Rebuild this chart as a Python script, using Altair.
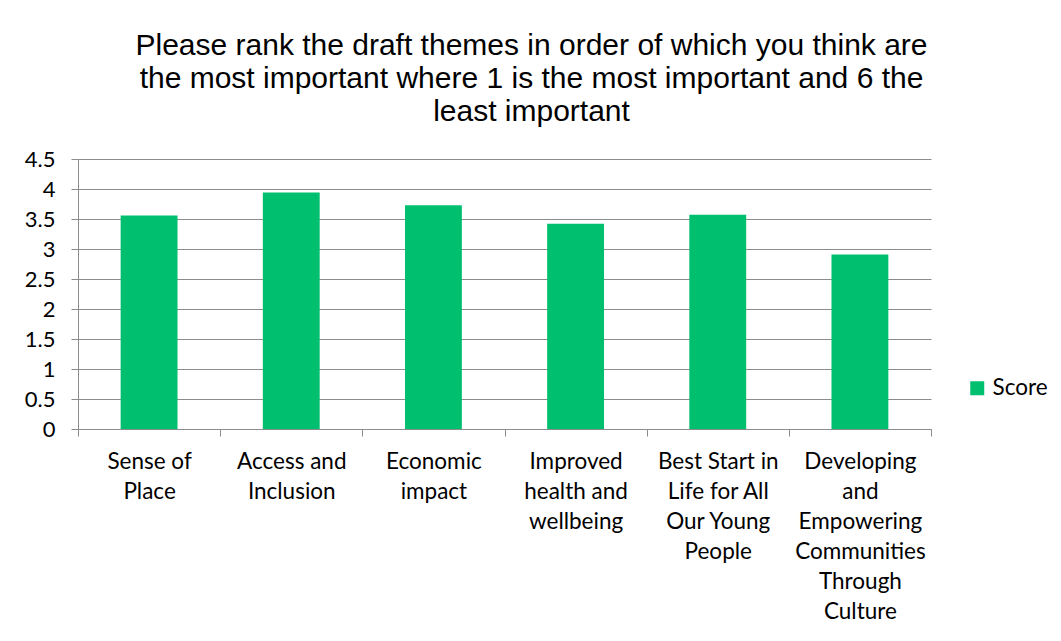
import altair as alt
import pandas as pd

categories = [
    "Sense of|Place",
    "Access and|Inclusion",
    "Economic|impact",
    "Improved|health and|wellbeing",
    "Best Start in|Life for All|Our Young|People",
    "Developing|and|Empowering|Communities|Through|Culture",
]
scores = [3.56, 3.94, 3.73, 3.42, 3.57, 2.91]
series = ["Score"] * len(categories)
y_ticks = [0, 0.5, 1, 1.5, 2, 2.5, 3, 3.5, 4, 4.5]
title_lines = [
    "Please rank the draft themes  in order of which you think are",
    "the most important where 1 is the most important and 6 the",
    "least important",
]

df = pd.DataFrame({"theme": categories, "score": scores, "series": series})

GREEN = "#00BF6F"
GREY = "#8C8C8C"
LABEL_FONT = "Lato"

bars = alt.Chart(df).mark_bar(width=alt.RelativeBandSize(0.4)).encode(
    x=alt.X(
        "theme:N",
        sort=categories,
        scale=alt.Scale(paddingInner=0, paddingOuter=0),
        axis=alt.Axis(
            title=None,
            labelAngle=0,
            labelExpr="split(datum.label, '|')",
            labelBaseline="top",
            labelLineHeight=30,
            labelFont=LABEL_FONT,
            labelFontSize=22.5,
            labelColor="black",
            labelPadding=14,
            tickBand="extent",
            tickSize=7,
            tickColor=GREY,
            domainColor=GREY,
            grid=False,
            labelLimit=300,
        ),
    ),
    y=alt.Y(
        "score:Q",
        scale=alt.Scale(domain=[0, 4.5], nice=False),
        axis=alt.Axis(
            title=None,
            values=y_ticks,
            format="~g",
            labelFont=LABEL_FONT,
            labelFontSize=22,
            labelColor="black",
            labelPadding=16,
            tickSize=7,
            tickColor=GREY,
            domainColor=GREY,
            gridColor=GREY,
        ),
    ),
    color=alt.Color(
        "series:N",
        scale=alt.Scale(range=[GREEN]),
        legend=alt.Legend(
            title=None,
            orient="none",
            legendX=888,
            legendY=218,
            symbolType="square",
            symbolSize=196,
            symbolStrokeWidth=0,
            labelFont=LABEL_FONT,
            labelFontSize=22.5,
            labelColor="black",
            labelOffset=4,
        ),
    ),
)

chart = bars.properties(
    width=853,
    height=270,
    autosize=alt.AutoSizeParams(type="none"),
    padding={"left": 70, "top": 151, "right": 122, "bottom": 200},
    title=alt.Title(
        text=title_lines,
        font="Liberation Sans",
        fontSize=30,
        fontWeight="normal",
        color="black",
        anchor="middle",
        dx=27,
        offset=21,
        lineHeight=33,
    ),
).configure_view(strokeWidth=0)

chart.save("out.html", embed_options={"renderer": "svg", "actions": False})
